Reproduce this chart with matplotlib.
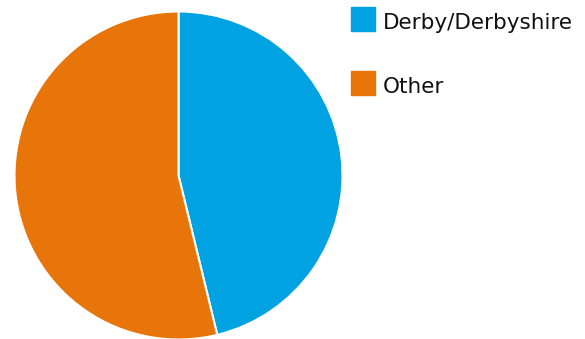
import matplotlib.pyplot as plt
from matplotlib.patches import Rectangle

labels = ["Derby/Derbyshire", "Other"]
shares = [46.2, 53.8]
colors = ["#00A2E2", "#E8750A"]

W, H = 585, 339
fig = plt.figure(figsize=(W / 100, H / 100), dpi=100)

# pie axes: centre ~ (178.5, 175.5) px, radius ~164 px
cx, cy, r = 178.5, 175.5, 164
ax = fig.add_axes([(cx - r) / W, 1 - (cy + r) / H, 2 * r / W, 2 * r / H])
ax.pie(shares, colors=colors, startangle=90, counterclock=False, radius=1,
       wedgeprops=dict(edgecolor="white", linewidth=1.5))
ax.set_xlim(-1, 1)
ax.set_ylim(-1, 1)
ax.set_aspect("equal")
ax.axis("off")

# legend drawn by hand
box = 24
for i, (lab, col) in enumerate(zip(labels, colors)):
    top = 7 + i * 64
    fig.patches.append(Rectangle((351 / W, 1 - (top + box) / H), box / W, box / H,
                                 transform=fig.transFigure, color=col))
    fig.text(383 / W, 1 - (top + 22) / H, lab, fontsize=15.5,
             family="DejaVu Sans", va="baseline", ha="left", color="#111111")

fig.savefig("out.png", dpi=100)
